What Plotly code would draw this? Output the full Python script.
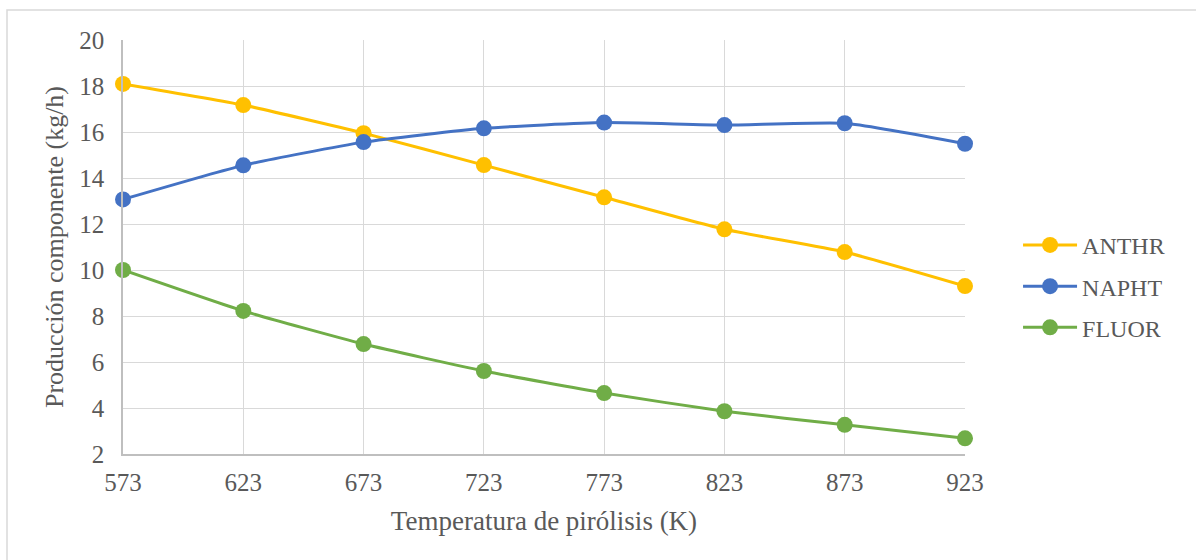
import plotly.graph_objects as go

temperatures = [573, 623, 673, 723, 773, 823, 873, 923]
anthr = [18.09, 17.17, 15.95, 14.56, 13.16, 11.77, 10.78, 9.30]
napht = [13.07, 14.55, 15.56, 16.16, 16.41, 16.30, 16.38, 15.49]
fluor = [10.0, 8.22, 6.78, 5.61, 4.65, 3.86, 3.27, 2.68]

series = [("ANTHR", anthr, "#FFC000"), ("NAPHT", napht, "#4472C4"), ("FLUOR", fluor, "#70AD47")]

font_family = "Liberation Serif, Times New Roman, serif"
text_color = "#595959"

fig = go.Figure()
for name, vals, color in series:
    fig.add_trace(go.Scatter(
        x=temperatures, y=vals, name=name, mode="lines+markers",
        line=dict(color=color, width=3, shape="spline", smoothing=0.5),
        marker=dict(color=color, size=16),
        cliponaxis=False, legendgroup=name,
    ))

fig.update_layout(
    width=1196, height=560,
    margin=dict(l=123, r=231, t=40, b=106),
    paper_bgcolor="white", plot_bgcolor="white",
    font=dict(family=font_family, color=text_color, size=24),
    showlegend=True,
    legend=dict(x=1.063, y=0.405, xanchor="left", yanchor="middle",
                font=dict(size=24, color=text_color, family=font_family),
                tracegroupgap=7, itemwidth=54, bgcolor="rgba(0,0,0,0)"),
    xaxis=dict(range=[573, 923], tickmode="array", tickvals=temperatures,
               ticktext=[str(t) for t in temperatures],
               showgrid=True, gridcolor="#D9D9D9", gridwidth=1,
               showline=True, linecolor="#BFBFBF", linewidth=1.5,
               zeroline=False, ticks="outside", ticklen=5, tickcolor="rgba(0,0,0,0)",
               title=dict(text="Temperatura de pirólisis (K)", standoff=16,
                          font=dict(size=27, color=text_color, family=font_family)),
               tickfont=dict(size=25, color=text_color, family=font_family)),
    yaxis=dict(range=[2, 20], tickmode="linear", tick0=2, dtick=2,
               showgrid=True, gridcolor="#D9D9D9", gridwidth=1,
               showline=True, linecolor="#BFBFBF", linewidth=1.5,
               zeroline=False, ticks="outside", ticklen=12, tickcolor="rgba(0,0,0,0)",
               title=dict(text="Producción componente (kg/h)", standoff=8,
                          font=dict(size=26, color=text_color, family=font_family)),
               tickfont=dict(size=25, color=text_color, family=font_family)),
    shapes=[dict(type="rect", xref="paper", yref="paper",
                 x0=(7 - 123) / 842, x1=1.5, y0=-0.5, y1=(454 - 10) / 414,
                 line=dict(color="#D9D9D9", width=1.5), fillcolor="rgba(0,0,0,0)",
                 layer="below")],
)

fig.write_html("out.html")
